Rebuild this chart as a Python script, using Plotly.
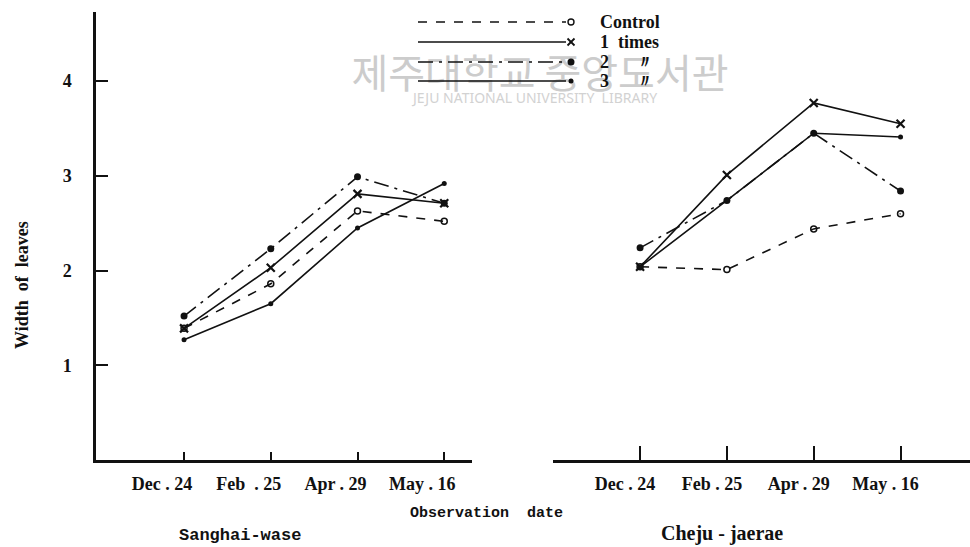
import plotly.graph_objects as go

# ---------------- data ----------------
dates_left = ["Dec . 24", "Feb  . 25", "Apr . 29", "May . 16"]
dates_right = ["Dec . 24", "Feb . 25", "Apr . 29", "May . 16"]
series_names = ["Control", "1  times", "2      〃", "3      〃"]
y_ticks = [1, 2, 3, 4]

sang_control = [1.39, 1.86, 2.63, 2.52]
sang_1 = [1.39, 2.03, 2.81, 2.71]
sang_2 = [1.52, 2.23, 2.99, 2.71]
sang_3 = [1.27, 1.65, 2.45, 2.92]

cheju_control = [2.04, 2.01, 2.44, 2.60]
cheju_1 = [2.04, 3.01, 3.77, 3.55]
cheju_2 = [2.24, 2.74, 3.45, 2.84]
cheju_3 = [2.04, 2.74, 3.45, 3.41]

# ---------------- styles ----------------
W, H = 970, 547
SERIF = "Liberation Serif, Times New Roman, serif"
MONO = "Liberation Mono, Courier New, monospace"
BLACK = "#111111"
CLEAR = "rgba(0,0,0,0)"

styles = [
    dict(dash="dash", symbol="circle-open", size=6, lw=1.6, mlw=1.5),
    dict(dash="solid", symbol="x-thin-open", size=8, lw=1.6, mlw=2.2),
    dict(dash="longdashdot", symbol="circle", size=7, lw=1.6, mlw=0),
    dict(dash="solid", symbol="circle", size=5, lw=1.6, mlw=0),
]


def px(xp):
    return xp / W


def py(yp):
    return 1 - yp / H


idx = list(range(len(dates_left)))
fig = go.Figure()

# watermark (drawn first so that everything else sits on top of it)
fig.add_trace(go.Scatter(
    x=[px(540), px(535)], y=[py(78), py(99)], xaxis="x3", yaxis="y3",
    mode="text", text=["제주대학교 중앙도서관", "JEJU NATIONAL UNIVERSITY  LIBRARY"],
    textposition="middle center", showlegend=False, hoverinfo="skip",
    textfont=dict(family=["Noto Sans CJK KR", "Noto Sans"], size=[40, 14],
                  color=["#cccccc", "#d2d2d2"])))

for xa, data in (("x", [sang_control, sang_1, sang_2, sang_3]),
                 ("x2", [cheju_control, cheju_1, cheju_2, cheju_3])):
    for name, vals, st in zip(series_names, data, styles):
        fig.add_trace(go.Scatter(
            x=idx, y=vals, xaxis=xa, yaxis="y", mode="lines+markers",
            name=name, showlegend=False,
            line=dict(color=BLACK, width=st["lw"], dash=st["dash"]),
            marker=dict(symbol=st["symbol"], size=st["size"], color=BLACK,
                        line=dict(color=BLACK, width=st["mlw"])),
            hoverinfo="skip"))

tickfont = dict(family=SERIF, size=18, color=BLACK, weight="bold")
axis_common = dict(showline=True, linecolor=BLACK, linewidth=2.5, ticks="inside",
                   tickcolor=BLACK, showgrid=False, zeroline=False, tickwidth=1.5)

fig.update_layout(
    width=W, height=H, margin=dict(l=0, r=0, t=0, b=0),
    paper_bgcolor="white", plot_bgcolor=CLEAR,
    xaxis=dict(domain=[96 / W, 472 / W], range=[-1.015, 3.32],
               tickvals=idx, ticktext=dates_left, ticklen=8,
               ticklabelshift=-22, ticklabelstandoff=6,
               tickfont=tickfont, anchor="y", **axis_common),
    xaxis2=dict(domain=[553 / W, 1.0], range=[-1.003, 3.80],
                tickvals=idx, ticktext=dates_right, ticklen=14,
                ticklabelshift=-15, ticklabelstandoff=6,
                tickfont=tickfont, anchor="y", **axis_common),
    yaxis=dict(domain=[87 / H, 535 / H], range=[0, 4.73],
               tickvals=y_ticks, ticktext=[str(v) for v in y_ticks], ticklen=12,
               ticklabelstandoff=18, tickfont=tickfont, anchor="x",
               **axis_common),
    xaxis3=dict(domain=[0, 1], range=[0, 1], visible=False, anchor="y3"),
    yaxis3=dict(domain=[0, 1], range=[0, 1], visible=False, anchor="x3"),
)

annotations = []
shapes = []


def ann(text, x, y, font, **kw):
    d = dict(text=text, x=px(x), y=py(y), xref="paper", yref="paper", showarrow=False,
             xanchor="center", yanchor="middle", font=font)
    d.update(kw)
    annotations.append(d)


def line(x0, y0, x1, y1, width=1.6, dash="solid"):
    shapes.append(dict(type="line", xref="paper", yref="paper",
                       x0=px(x0), x1=px(x1), y0=py(y0), y1=py(y1),
                       line=dict(color=BLACK, width=width, dash=dash)))


def circle(cx, cy, r, filled):
    shapes.append(dict(type="circle", xref="paper", yref="paper",
                       x0=px(cx - r), x1=px(cx + r), y0=py(cy + r), y1=py(cy - r),
                       fillcolor=BLACK if filled else "white",
                       line=dict(color=BLACK, width=0 if filled else 1.4)))


# manual legend: line with the series marker at its end
legend_rows = [22, 42, 62, 81]
MX = 571
for name, st, ry in zip(series_names, styles, legend_rows):
    line(418, ry, 566, ry, dash=st["dash"])
    if st["symbol"] == "x-thin-open":
        line(MX - 3.5, ry - 3.5, MX + 3.5, ry + 3.5, width=1.8)
        line(MX - 3.5, ry + 3.5, MX + 3.5, ry - 3.5, width=1.8)
    else:
        circle(MX, ry, st["size"] / 2, st["symbol"] == "circle")
    ann(name, 598, ry, dict(family=SERIF, size=18, color=BLACK, weight="bold"), xanchor="left")

# axis titles / panel labels
ann("<b>Width  of  leaves</b>", 22, 285, dict(family=SERIF, size=18, color=BLACK), textangle=-90)
ann("<b>Observation  date</b>", 486, 513, dict(family=MONO, size=15, color=BLACK))
ann("<b>Sanghai-wase</b>", 240, 535, dict(family=MONO, size=17, color=BLACK))
ann("<b>Cheju - jaerae</b>", 722, 533, dict(family=SERIF, size=20, color=BLACK))

fig.update_layout(annotations=annotations, shapes=shapes)
fig.write_html("out.html")
